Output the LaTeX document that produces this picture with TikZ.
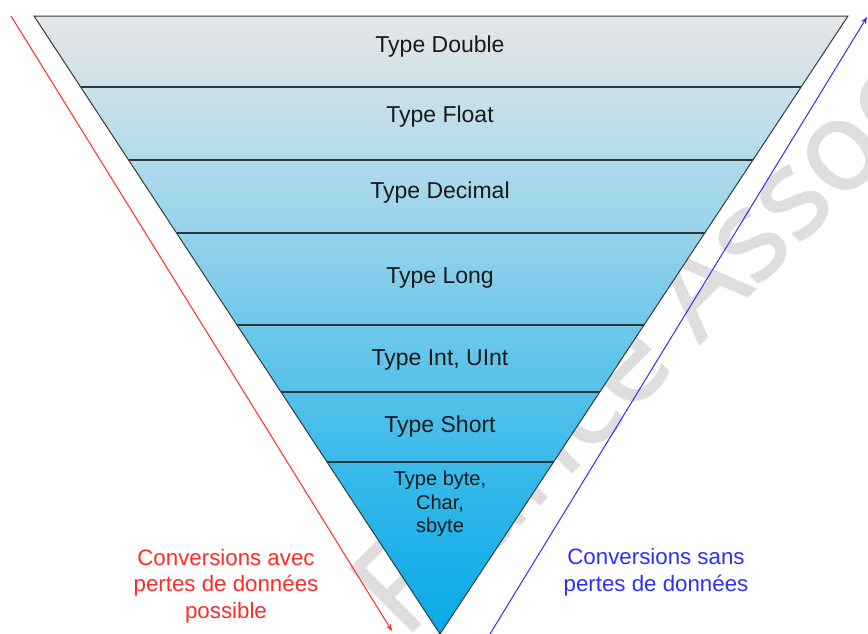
\documentclass[tikz,border=0pt]{standalone}
\usepackage{fontspec}
\setmainfont{Liberation Sans}
\newfontfamily\markfont[FakeBold=1.6]{Open Sans}
\usetikzlibrary{calc,arrows.meta}

% gradient stops of the pyramid, top to bottom
\definecolor{g0}{HTML}{E5E6E7}
\definecolor{g1}{HTML}{CCE1E9}
\definecolor{g2}{HTML}{B0DAEA}
\definecolor{g3}{HTML}{96D2EB}
\definecolor{g4}{HTML}{6EC8EB}
\definecolor{g5}{HTML}{54C1EA}
\definecolor{g6}{HTML}{3ABAEA}
\definecolor{g7}{HTML}{06A9E8}
\definecolor{edgegray}{HTML}{3C3C3C}
\definecolor{sepgray}{HTML}{2F3538}
\definecolor{lossred}{HTML}{FF2B2B}
\definecolor{safeblue}{HTML}{2F2FFF}
\definecolor{markgray}{HTML}{DEDEDE}

\begin{document}
\begin{tikzpicture}[x=1pt,y=-1pt,
  band/.style={draw=none},
  sep/.style={draw=sepgray, line width=1.2pt},
  outline/.style={draw=edgegray, line width=1pt, line join=miter},
  level/.style={font=\fontsize{23}{27}\selectfont, text=black!90, inner sep=0pt},
  smalllevel/.style={font=\fontsize{20}{23.5}\selectfont, text=black!90, inner sep=0pt, align=center},
  note/.style={font=\fontsize{22.3}{26.5}\selectfont, inner sep=0pt, align=center},
  flow/.style={line width=1pt, -{Stealth[length=7pt,width=5.5pt]}},
  watermark/.style={font=\markfont\fontsize{124}{124}\selectfont, text=markgray, inner sep=0pt}
]
\useasboundingbox (0,0) rectangle (868,633);
\fill[white] (0,0) rectangle (868,633);

% watermark behind everything
\begin{scope}
  \clip (0,0) rectangle (868,633);
  \node[watermark, rotate=45, anchor=base west] (wm) at (404,640) {France Associations};
\end{scope}

% pyramid corners
\coordinate (L0) at (34,16);
\coordinate (R0) at (848,16);
\coordinate (apex) at (440,634);

% band boundaries on both slanted edges
\foreach \i/\t in {1/0.1149, 2/0.2330, 3/0.3511, 4/0.5000, 5/0.6084, 6/0.7217} {
  \coordinate (L\i) at ($(L0)!\t!(apex)$);
  \coordinate (R\i) at ($(R0)!\t!(apex)$);
}

% shaded bands
\fill[band, top color=g0, bottom color=g1] (L0) -- (R0) -- (R1) -- (L1) -- cycle;
\fill[band, top color=g1, bottom color=g2] (L1) -- (R1) -- (R2) -- (L2) -- cycle;
\fill[band, top color=g2, bottom color=g3] (L2) -- (R2) -- (R3) -- (L3) -- cycle;
\fill[band, top color=g3, bottom color=g4] (L3) -- (R3) -- (R4) -- (L4) -- cycle;
\fill[band, top color=g4, bottom color=g5] (L4) -- (R4) -- (R5) -- (L5) -- cycle;
\fill[band, top color=g5, bottom color=g6] (L5) -- (R5) -- (R6) -- (L6) -- cycle;
\fill[band, top color=g6, bottom color=g7] (L6) -- (R6) -- (apex) -- cycle;

% separators and outline
\foreach \i in {1,...,6} { \draw[sep] (L\i) -- (R\i); }
\draw[outline] (L0) -- (R0) -- (apex) -- cycle;

% level labels
\node[level] (double)  at (440,47)  {Type Double};
\node[level] (float)   at (440,117) {Type Float};
\node[level] (decimal) at (440,193) {Type Decimal};
\node[level] (long)    at (440,278) {Type Long};
\node[level] (int)     at (440,360) {Type Int, UInt};
\node[level] (short)   at (440,427) {Type Short};
\node[smalllevel] (byte) at (440,504) {Type byte,\\Char,\\sbyte};

% conversion directions
\coordinate (lossstart) at (11,16);
\coordinate (lossend) at (392,631);
\coordinate (safestart) at (490,634);
\coordinate (safeend) at (867,17);
\draw[flow, lossred] (lossstart) -- (lossend);
\draw[flow, safeblue] (safestart) -- (safeend);

\node[note, text=lossred] (lossy) at (226,586) {Conversions avec\\pertes de données\\possible};
\node[note, text=safeblue] (safe) at (656,572) {Conversions sans\\pertes de données};
\end{tikzpicture}
\end{document}
